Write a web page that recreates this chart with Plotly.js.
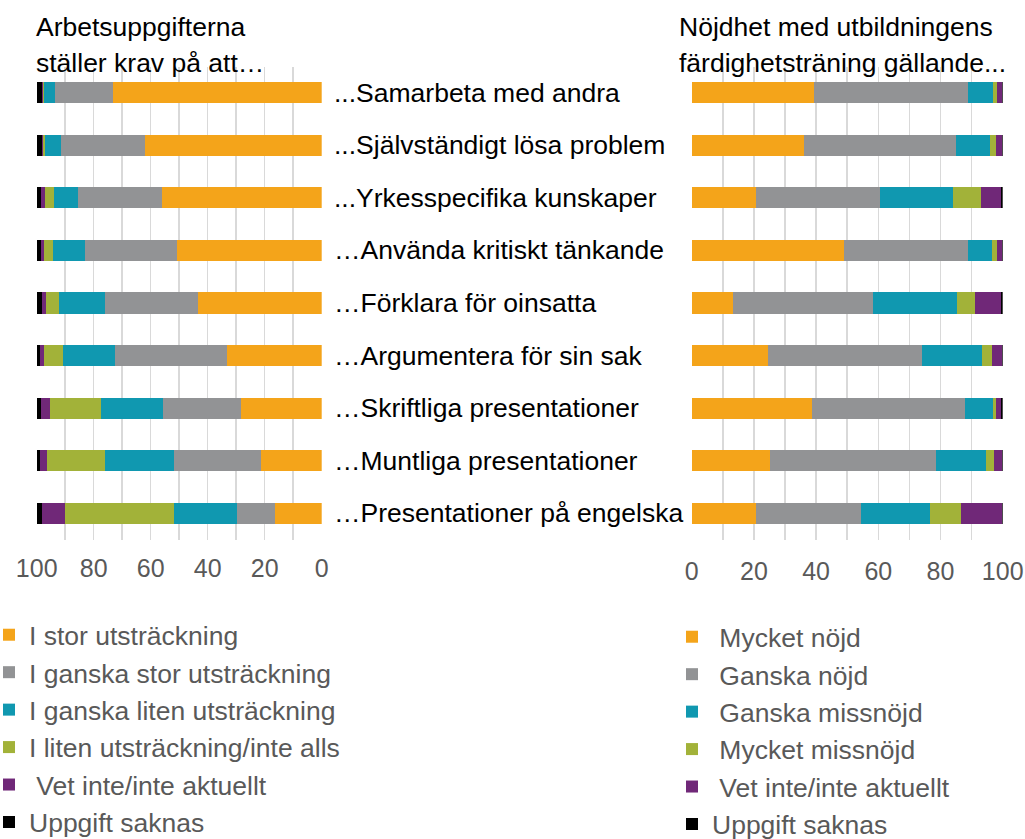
<!DOCTYPE html>
<html>
<head>
<meta charset="utf-8">
<script src="https://cdn.plot.ly/plotly-3.0.1.min.js"></script>
<style>html,body{margin:0;padding:0;background:#fff;}#chart{width:1025px;height:839px;}</style>
</head>
<body>
<div id="chart"></div>
<script>
// Categories (top to bottom)
var categories = ["...Samarbeta med andra", "...Självständigt lösa problem", "...Yrkesspecifika kunskaper",
  "…Använda kritiskt tänkande", "…Förklara för oinsatta", "…Argumentera för sin sak",
  "…Skriftliga presentationer", "…Muntliga presentationer", "…Presentationer på engelska"];

// Left chart: Arbetsuppgifterna ställer krav på att… (%)
var namesLeft = ["I stor utsträckning", "I ganska stor utsträckning", "I ganska liten utsträckning",
  "I liten utsträckning/inte alls", "\u00A0Vet inte/inte aktuellt", "Uppgift saknas"];
var storUt      = [73.1, 62.0, 55.9, 50.9, 43.4, 33.1, 28.2, 21.4, 16.3];
var ganskaStor  = [20.6, 29.6, 29.5, 32.3, 32.5, 39.3, 27.5, 30.4, 13.4];
var ganskaLiten = [3.6, 5.5, 8.6, 11.2, 16.4, 18.4, 21.7, 24.3, 22.2];
var litenInte   = [0.6, 0.6, 3.2, 3.0, 4.4, 6.6, 18.0, 20.2, 38.2];
var vetInteA    = [0.4, 0.4, 1.2, 1.0, 1.4, 1.4, 3.1, 2.5, 8.0];
var saknasA     = [1.7, 1.9, 1.6, 1.6, 1.9, 1.2, 1.5, 1.2, 1.9];

// Right chart: Nöjdhet med utbildningens färdighetsträning gällande... (%)
var namesRight = ["\u00A0Mycket nöjd", "\u00A0Ganska nöjd", "\u00A0Ganska missnöjd",
  "\u00A0Mycket missnöjd", "\u00A0Vet inte/inte aktuellt", "Uppgift saknas"];
var mycketNojd = [39.4, 36.1, 20.6, 48.9, 13.2, 24.4, 38.6, 25.3, 20.7];
var ganskaNojd = [49.5, 48.8, 39.9, 39.8, 45.0, 49.8, 49.2, 53.2, 33.6];
var ganskaMiss = [8.1, 11.1, 23.6, 8.0, 27.1, 19.3, 9.1, 16.0, 22.3];
var mycketMiss = [1.3, 2.0, 8.8, 1.5, 5.7, 3.2, 0.8, 2.6, 9.9];
var vetInteB   = [1.4, 1.7, 6.5, 1.5, 8.6, 3.0, 1.9, 2.7, 13.3];
var saknasB    = [0.3, 0.3, 0.6, 0.3, 0.4, 0.3, 0.4, 0.2, 0.2];

var tickVals = [0, 10, 20, 30, 40, 50, 60, 70, 80, 90, 100];
var tickText = ["0", "", "20", "", "40", "", "60", "", "80", "", "100"];

var colors = ["#F4A41A", "#929395", "#1098B0", "#A2B239", "#702878", "#000000"];
var FONT = "Liberation Sans, Arial, Helvetica, sans-serif";

var leftSeries = [storUt, ganskaStor, ganskaLiten, litenInte, vetInteA, saknasA];
var rightSeries = [mycketNojd, ganskaNojd, ganskaMiss, mycketMiss, vetInteB, saknasB];

var data = [];
leftSeries.forEach(function (vals, i) {
  data.push({
    type: "bar", orientation: "h", x: vals, y: categories, name: namesLeft[i],
    xaxis: "x", yaxis: "y", legend: "legend", legendgroup: "L" + i,
    marker: {color: colors[i], line: {width: 0}}, hoverinfo: "x+y+name"
  });
});
rightSeries.forEach(function (vals, i) {
  data.push({
    type: "bar", orientation: "h", x: vals, y: categories, name: namesRight[i],
    xaxis: "x2", yaxis: "y2", legend: "legend2", legendgroup: "R" + i,
    marker: {color: colors[i], line: {width: 0}}, hoverinfo: "x+y+name"
  });
});

var W = 1025, H = 839;
var yDom = [1 - 539.5 / H, 1 - 66.5 / H];

var annotations = [];
categories.forEach(function (c) {
  annotations.push({
    text: c, xref: "paper", yref: "y", x: 332 / W, y: c, xanchor: "left", yanchor: "middle",
    showarrow: false, font: {family: FONT, size: 26.5, color: "#000000"}
  });
});
var titleLines = [
  {t: "Arbetsuppgifterna", x: 34, y: 27},
  {t: "ställer krav på att…", x: 34, y: 63},
  {t: "Nöjdhet med utbildningens", x: 677, y: 27},
  {t: "färdighetsträning gällande...", x: 677, y: 63}
];
titleLines.forEach(function (l) {
  annotations.push({
    text: l.t, xref: "paper", yref: "paper", x: l.x / W, y: 1 - l.y / H,
    xanchor: "left", yanchor: "middle", showarrow: false,
    font: {family: FONT, size: 26.5, color: "#000000"}
  });
});

var axisCommon = {
  tickmode: "array", tickvals: tickVals, ticktext: tickText,
  showgrid: true, gridcolor: "#D9D9D9", gridwidth: 1.5,
  zeroline: false, showline: false, ticks: "",
  tickfont: {family: FONT, size: 25, color: "#595959"},
  fixedrange: true, automargin: false
};

var layout = {
  width: W, height: H,
  margin: {l: 0, r: 0, t: 0, b: 0, autoexpand: false},
  paper_bgcolor: "#ffffff", plot_bgcolor: "#ffffff",
  barmode: "stack", bargap: 0.6,
  showlegend: true,
  font: {family: FONT},
  xaxis: Object.assign({}, axisCommon, {domain: [36.7 / W, 321.7 / W], range: [100, 0], anchor: "y", ticklabelstandoff: 11}),
  xaxis2: Object.assign({}, axisCommon, {domain: [691.7 / W, 1002.7 / W], range: [0, 100], anchor: "y2", ticklabelstandoff: 14}),
  yaxis: {domain: yDom, type: "category", autorange: "reversed", showgrid: false, showticklabels: false, zeroline: false, anchor: "x", fixedrange: true},
  yaxis2: {domain: yDom, type: "category", autorange: "reversed", showgrid: false, showticklabels: false, zeroline: false, anchor: "x2", fixedrange: true},
  legend: {
    x: -11 / W, y: 1 - 611 / H, xanchor: "left", yanchor: "top", traceorder: "normal",
    font: {family: FONT, size: 26.5, color: "#595959"}, bgcolor: "rgba(0,0,0,0)", tracegroupgap: 0
  },
  legend2: {
    x: 672 / W, y: 1 - 613 / H, xanchor: "left", yanchor: "top", traceorder: "normal",
    font: {family: FONT, size: 26.5, color: "#595959"}, bgcolor: "rgba(0,0,0,0)", tracegroupgap: 0
  },
  annotations: annotations
};

Plotly.newPlot("chart", data, layout, {displayModeBar: false, staticPlot: true});
</script>
</body>
</html>
